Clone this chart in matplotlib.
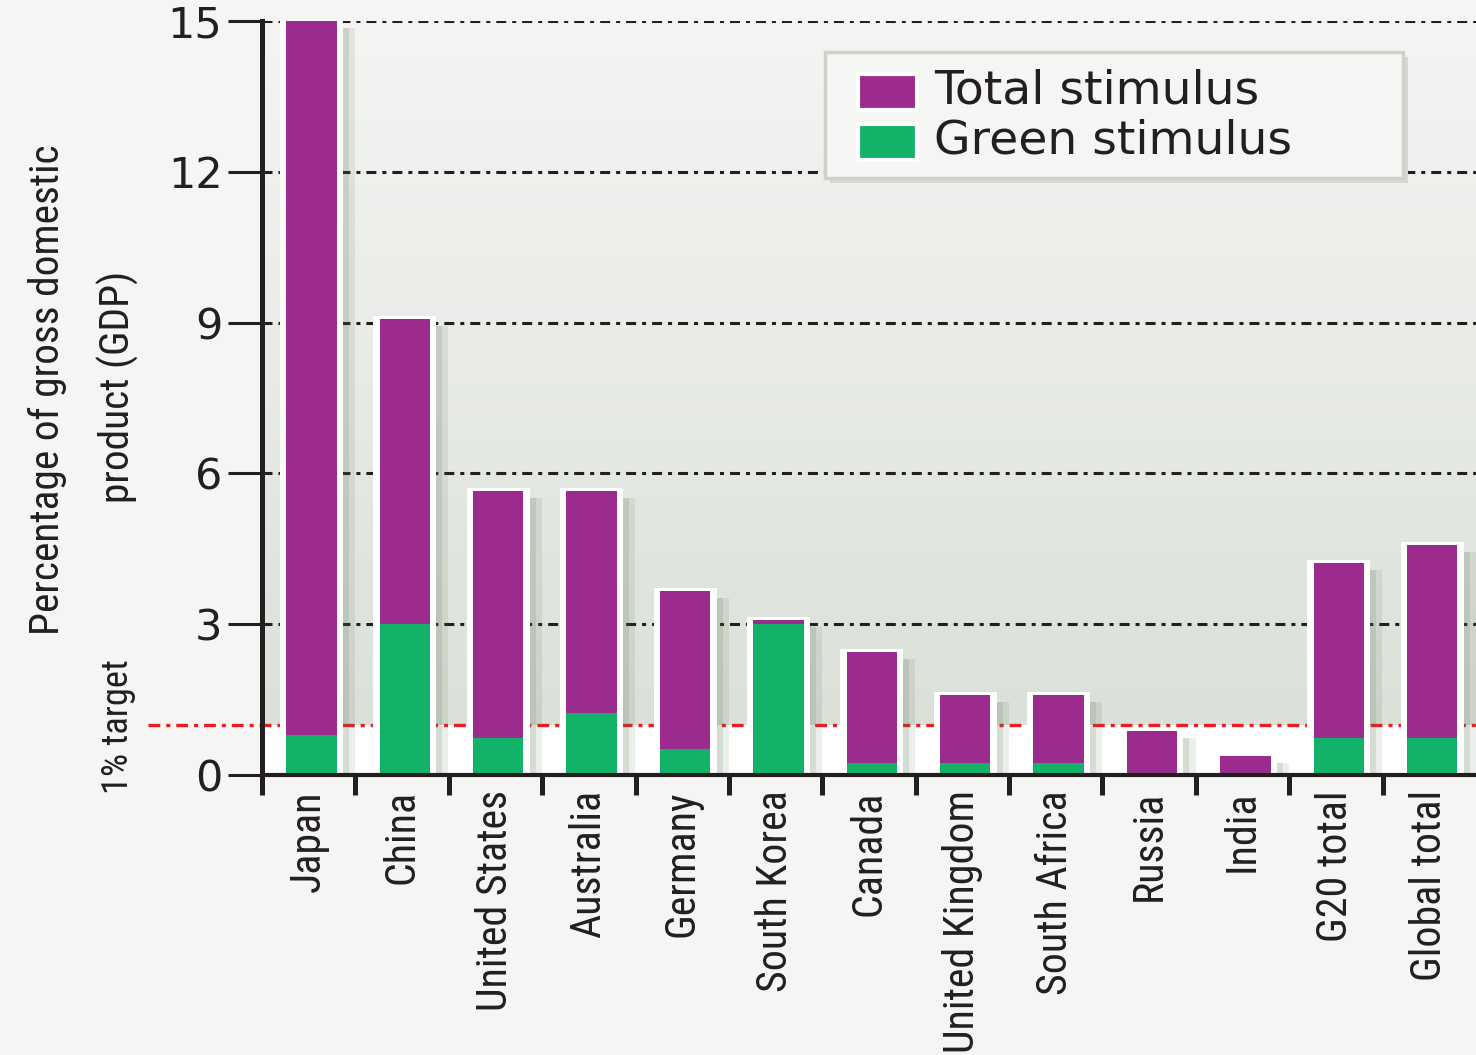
import matplotlib
matplotlib.use("Agg")
import matplotlib.pyplot as plt
from matplotlib.patches import Rectangle
import matplotlib.colors as mcolors
import numpy as np

countries = ["Japan", "China", "United States", "Australia", "Germany", "South Korea",
             "Canada", "United Kingdom", "South Africa", "Russia", "India",
             "G20 total", "Global total"]
total_stimulus = [15.0, 9.07, 5.65, 5.65, 3.66, 3.08, 2.45, 1.59, 1.59, 0.88, 0.38, 4.22, 4.58]
green_stimulus = [0.8, 3.0, 0.74, 1.23, 0.52, 3.0, 0.24, 0.24, 0.24, 0.0, 0.0, 0.74, 0.74]
series_names = ["Total stimulus", "Green stimulus"]
yticks = [0, 3, 6, 9, 12, 15]
target = 1.0

PURPLE = "#9b2c8d"
GREEN = "#12b268"
INK = "#231f20"
BG = "#f5f5f3"
NARROW = ["Roboto Condensed", "Roboto", "DejaVu Sans"]

plt.rcParams["lines.scale_dashes"] = False

W, H = 1476, 1055
fig = plt.figure(figsize=(W / 100, H / 100), dpi=100, facecolor=BG)
ax = fig.add_axes([262 / W, 1 - 775 / H, 1 - 262 / W, 754 / H])
ax.set_facecolor("white")

n = len(countries)
x = np.arange(n)
ax.set_xlim(-0.5, n - 0.5)
ax.set_ylim(0, 15)

# background: gradient above the 1% line, white below
grad = mcolors.LinearSegmentedColormap.from_list("bg", ["#dbe0d9", "#f4f5f3"])
ax.imshow(np.linspace(0, 1, 256).reshape(-1, 1), cmap=grad, origin="lower",
          extent=[-0.5, n - 0.5, target, 15], aspect="auto", zorder=0)

# dash-dot grid lines
for t in yticks[1:]:
    ax.axhline(t, color=INK, lw=2.2, dashes=(7.2, 4.3, 2.9, 4.3), zorder=1)

# 1% target line, running out to the left label
ax.plot([-1.72, n - 0.5], [target, target], color="#ed1c24", lw=2.4,
        dashes=(8.5, 4.3, 2.9, 4.3), clip_on=False, zorder=1)

# bars: shadow, white frame, coloured parts
off = 0.03
wc = 0.54
ww = 0.675
top_pad = 0.06
tot = np.array(total_stimulus)
grn = np.array(green_stimulus)
ax.bar(x + off + ww / 2 + 0.032, tot - 0.14, width=0.065, bottom=0,
       color="#4f6e4a", alpha=0.24, lw=0, zorder=2)
ax.bar(x + off + ww / 2 + 0.097, tot - 0.14, width=0.065, bottom=0,
       color="#4f6e4a", alpha=0.11, lw=0, zorder=2)
ax.bar(x + off, tot + top_pad, width=ww, color="white", lw=0, zorder=3)
ax.bar(x + off, tot, width=wc, color=PURPLE, lw=0, zorder=4, label=series_names[0])
ax.bar(x + off, grn, width=wc, color=GREEN, lw=0, zorder=5, label=series_names[1])

# axes styling
for s in ["top", "right"]:
    ax.spines[s].set_visible(False)
ax.spines["left"].set_linewidth(3.6)
ax.spines["bottom"].set_linewidth(3.0)
for s in ["left", "bottom"]:
    ax.spines[s].set_color(INK)
    ax.spines[s].set_zorder(6)

ax.set_yticks(yticks)
ax.set_yticklabels([str(t) for t in yticks], fontsize=31, color=INK)
ax.tick_params(axis="y", length=24.5, width=2.2, color=INK, pad=4)

ax.set_xticks(np.arange(-0.5, n - 1, 1.0))
ax.set_xticklabels([])
ax.tick_params(axis="x", which="major", length=14.4, width=3.6, color=INK)
ax.set_xticks(x, minor=True)
xlabels = ax.set_xticklabels(countries, minor=True, rotation=90, va="top", ha="center",
                             fontsize=30, family=NARROW, color=INK)
ax.tick_params(axis="x", which="minor", length=0, pad=11)

yl1 = fig.text(47 / W, 1 - 390 / H, "Percentage of gross domestic",
               rotation=90, ha="center", va="center", fontsize=30, family=NARROW, color=INK)
yl2 = fig.text(118 / W, 1 - 387 / H, "product (GDP)",
               rotation=90, ha="center", va="center", fontsize=30, family=NARROW, color=INK)
tl = fig.text(118 / W, 1 - 727 / H, "1% target", rotation=90, ha="center",
              va="center", fontsize=26, family=NARROW, color=INK)


def fit_length(txt, target_px):
    # rescale a rotated text so its length (vertical extent) matches the reference
    r = fig.canvas.get_renderer()
    h = txt.get_window_extent(r).height
    txt.set_fontsize(txt.get_fontsize() * target_px / h)


fit_length(yl1, 490)
fig.canvas.draw()
r = fig.canvas.get_renderer()
uk = xlabels[countries.index("United Kingdom")]
scale = 262 / uk.get_window_extent(r).height
for t in xlabels:
    t.set_fontsize(t.get_fontsize() * scale)
yl2.set_fontsize(yl1.get_fontsize())
fit_length(tl, 135)

# legend box drawn by hand to follow the reference layout
tf = fig.transFigure
fig.patches.append(Rectangle((830 / W, 1 - 183 / H), 578 / W, 126 / H, transform=tf,
                             facecolor="#d6d8d4", edgecolor="none", zorder=9))
fig.patches.append(Rectangle((825 / W, 1 - 178 / H), 578 / W, 126 / H, transform=tf,
                             facecolor=BG, edgecolor="#cdd2ca", lw=2.5, zorder=10))
for i, (name, col) in enumerate(zip(series_names, [PURPLE, GREEN])):
    y0 = 108 + 50 * i
    fig.patches.append(Rectangle((858 / W, 1 - (y0 + 2) / H), 59 / W, 36 / H, transform=tf,
                                 facecolor=col, edgecolor="white", lw=3, zorder=11))
    fig.text(934 / W, 1 - (y0 - 5) / H, name, fontsize=34, color=INK,
             ha="left", va="baseline", zorder=12)

fig.savefig("out.png", dpi=100, facecolor=BG)
